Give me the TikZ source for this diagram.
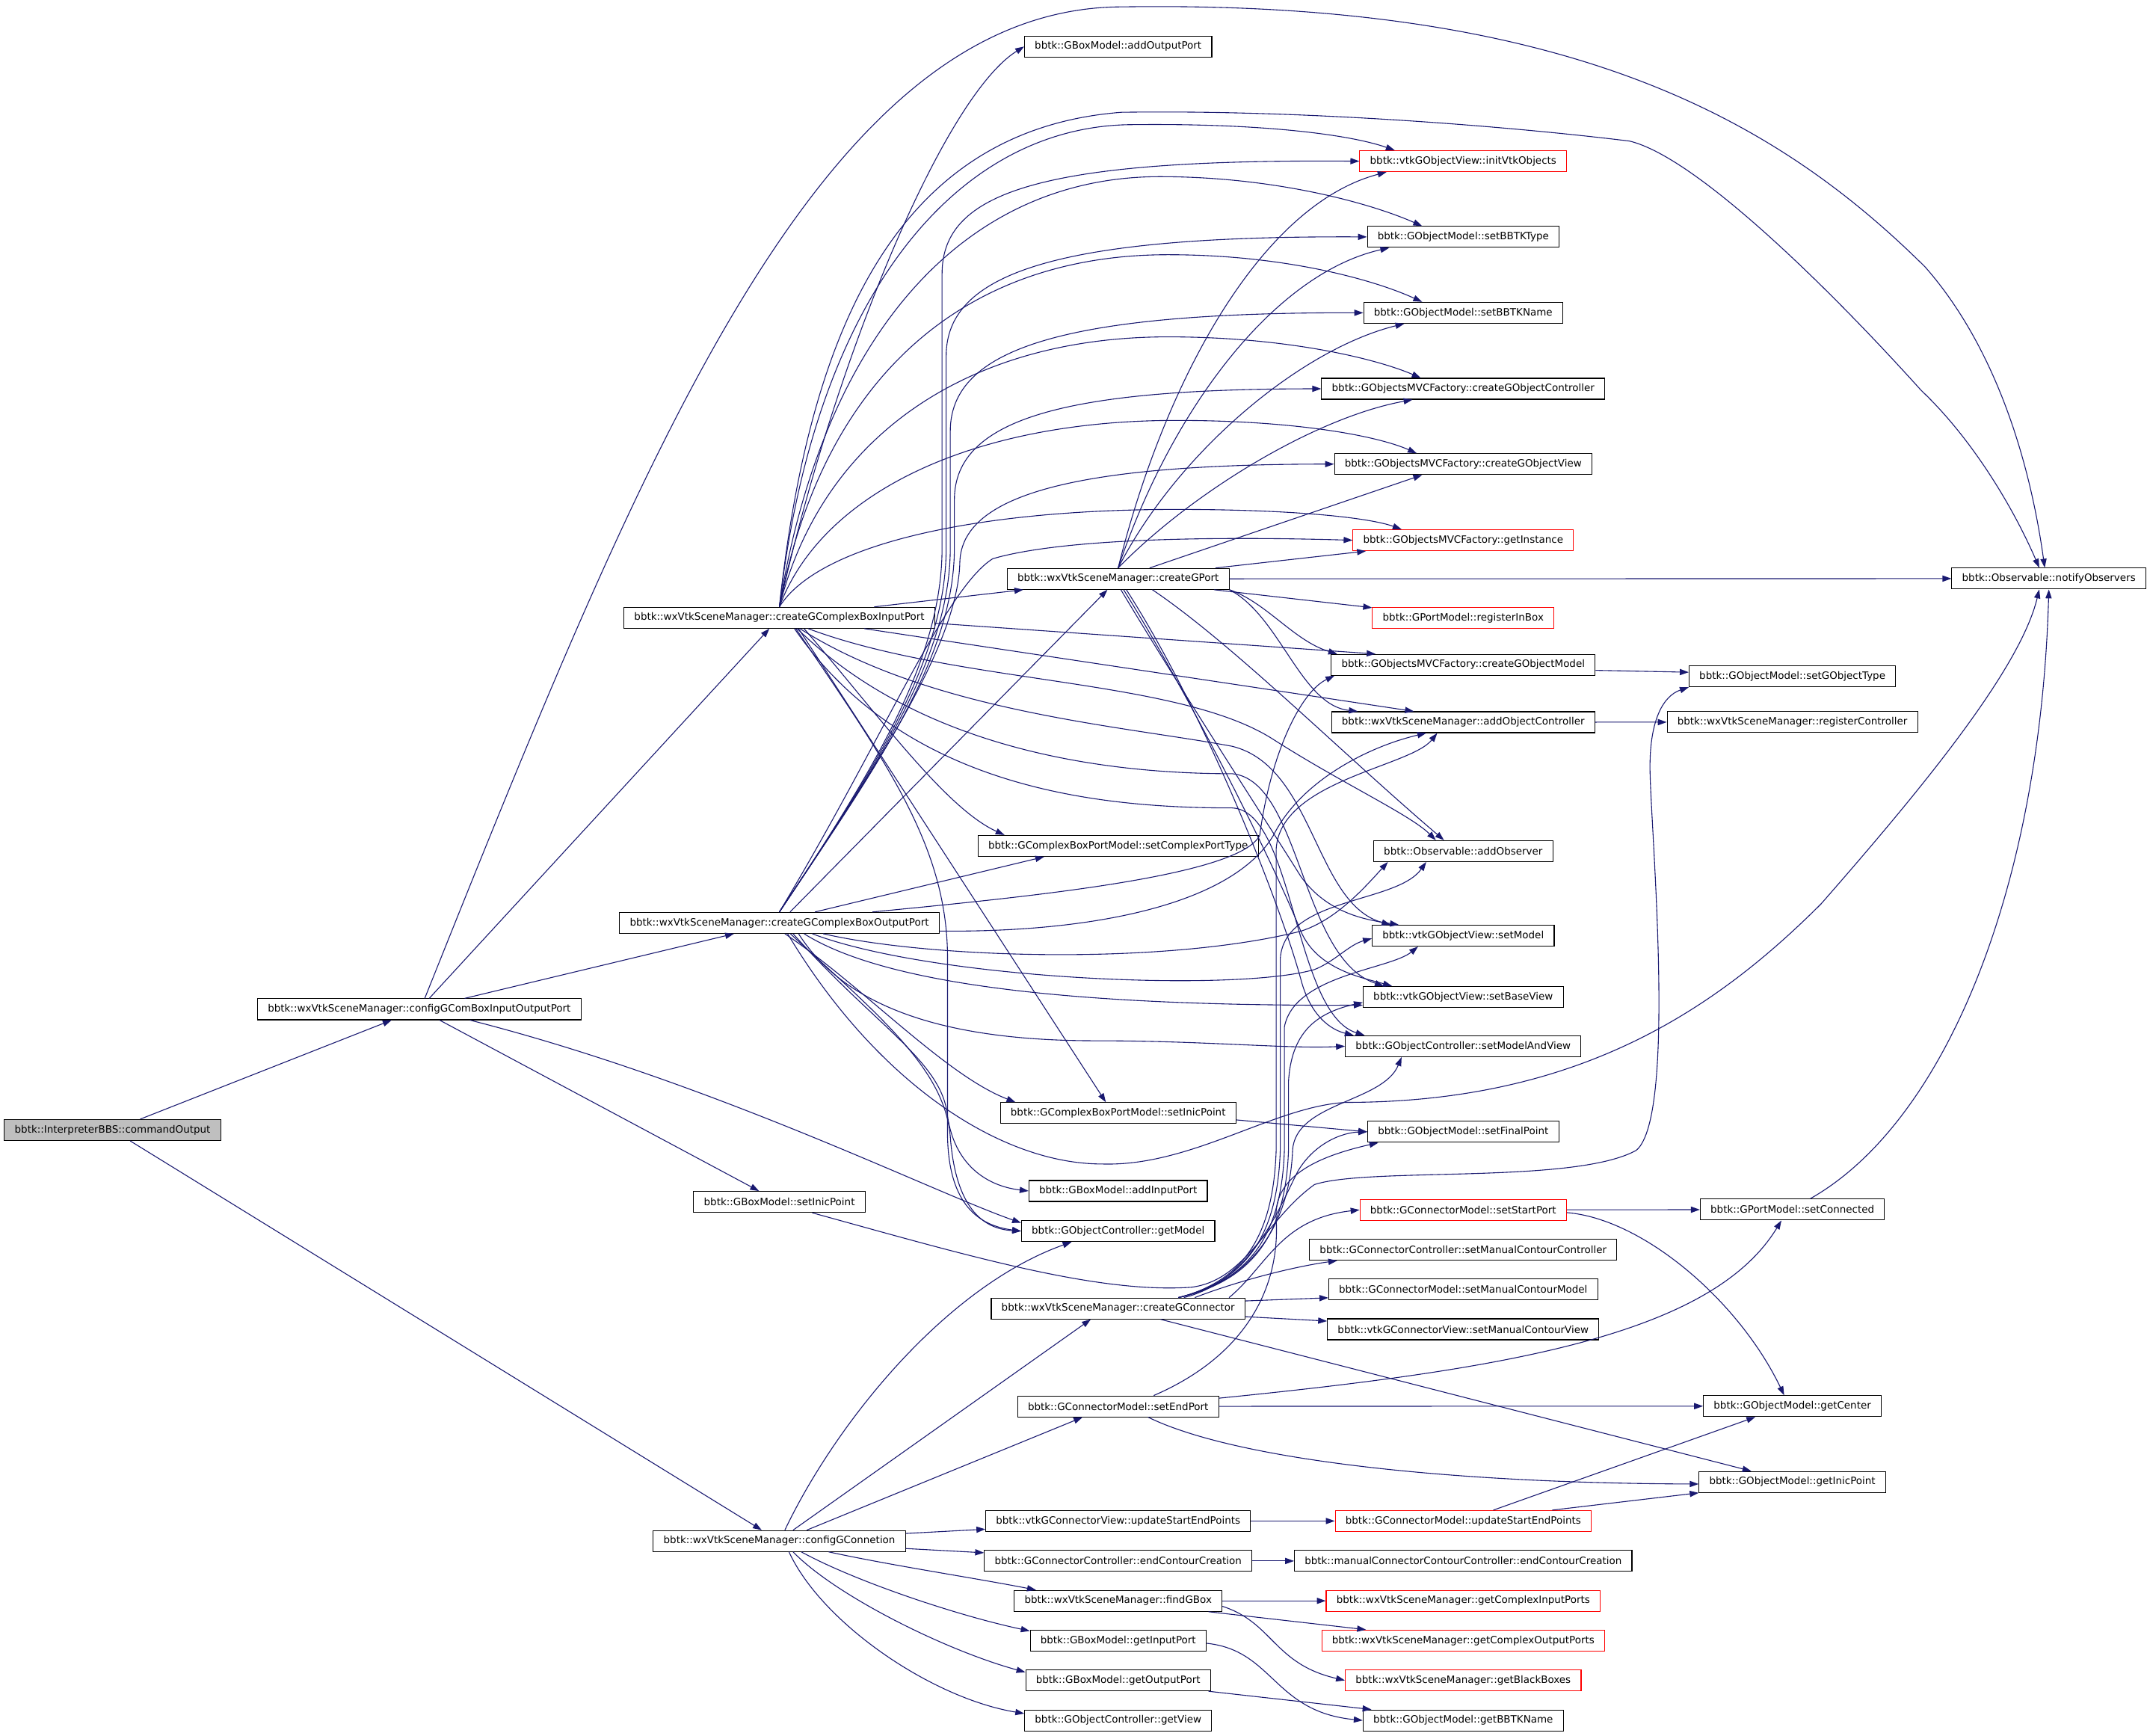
\documentclass[tikz,border=0pt]{standalone}
\usepackage{fontspec}
\setmainfont{DejaVu Sans}
\usepackage{tikz}
\usetikzlibrary{arrows.meta}
\definecolor{edge-blue}{HTML}{191970}
\definecolor{root-fill}{HTML}{BFBFBF}
\tikzset{
  fn/.style={draw=black,fill=white,line width=0.6pt,minimum height=15.3pt,
    inner xsep=7.5pt,inner ysep=0pt,font=\fontsize{7.35pt}{8.5pt}\selectfont},
  fnred/.style={fn,draw=red},
  fnroot/.style={fn,fill=root-fill},
  call/.style={->,draw=edge-blue,line width=0.6pt}
}
\begin{document}
\begin{tikzpicture}[x=1pt,y=-1pt,>={Triangle[length=6.5pt,width=4.5pt]}]
\useasboundingbox (0,0) rectangle (1568,1267.2);
% callers
\node[fnroot] (CO) at (82.2,825.2) {bbtk::InterpreterBBS::commandOutput};
\node[fn] (CB) at (306.2,737) {bbtk::wxVtkSceneManager::configGComBoxInputOutputPort};
\node[fn] (IP) at (569.2,451.1) {bbtk::wxVtkSceneManager::createGComplexBoxInputPort};
\node[fn] (OP) at (569.2,673.9) {bbtk::wxVtkSceneManager::createGComplexBoxOutputPort};
\node[fn] (BSIP) at (569.2,877.7) {bbtk::GBoxModel::setInicPoint};
\node[fn] (CG) at (569.2,1125.3) {bbtk::wxVtkSceneManager::configGConnetion};
% middle column
\node[fn] (AOP) at (816.6,34) {bbtk::GBoxModel::addOutputPort};
\node[fn] (GP) at (816.6,422.7) {bbtk::wxVtkSceneManager::createGPort};
\node[fn] (CPT) at (816.6,617.7) {bbtk::GComplexBoxPortModel::setComplexPortType};
\node[fn] (CIP) at (816.6,812.8) {bbtk::GComplexBoxPortModel::setInicPoint};
\node[fn] (AIP) at (816.6,869.7) {bbtk::GBoxModel::addInputPort};
\node[fn] (GM) at (816.6,899) {bbtk::GObjectController::getModel};
\node[fn] (CC) at (816.6,955.5) {bbtk::wxVtkSceneManager::createGConnector};
\node[fn] (SEP) at (816.6,1027) {bbtk::GConnectorModel::setEndPort};
\node[fn] (VUP) at (816.6,1110.7) {bbtk::vtkGConnectorView::updateStartEndPoints};
\node[fn] (ECC) at (816.6,1139.9) {bbtk::GConnectorController::endContourCreation};
\node[fn] (FGB) at (816.6,1169) {bbtk::wxVtkSceneManager::findGBox};
\node[fn] (GIP) at (816.6,1198) {bbtk::GBoxModel::getInputPort};
\node[fn] (GOP) at (816.6,1227.1) {bbtk::GBoxModel::getOutputPort};
\node[fn] (GV) at (816.6,1256.3) {bbtk::GObjectController::getView};
% right column
\node[fnred] (IV) at (1068.6,117.7) {bbtk::vtkGObjectView::initVtkObjects};
\node[fn] (BT) at (1068.6,173) {bbtk::GObjectModel::setBBTKType};
\node[fn] (BN) at (1068.6,228.4) {bbtk::GObjectModel::setBBTKName};
\node[fn] (FC) at (1068.6,283.9) {bbtk::GObjectsMVCFactory::createGObjectController};
\node[fn] (FV) at (1068.6,338.9) {bbtk::GObjectsMVCFactory::createGObjectView};
\node[fnred] (GI) at (1068.6,394.5) {bbtk::GObjectsMVCFactory::getInstance};
\node[fnred] (RB) at (1068.6,451.3) {bbtk::GPortModel::registerInBox};
\node[fn] (FM) at (1068.6,485.5) {bbtk::GObjectsMVCFactory::createGObjectModel};
\node[fn] (AC) at (1068.6,527.4) {bbtk::wxVtkSceneManager::addObjectController};
\node[fn] (AO) at (1068.6,621.5) {bbtk::Observable::addObserver};
\node[fn] (SM) at (1068.6,683.3) {bbtk::vtkGObjectView::setModel};
\node[fn] (SB) at (1068.6,728) {bbtk::vtkGObjectView::setBaseView};
\node[fn] (SMV) at (1068.6,764) {bbtk::GObjectController::setModelAndView};
\node[fn] (FP) at (1068.6,826.5) {bbtk::GObjectModel::setFinalPoint};
\node[fnred] (SSP) at (1068.6,883.5) {bbtk::GConnectorModel::setStartPort};
\node[fn] (SMCC) at (1068.6,912.6) {bbtk::GConnectorController::setManualContourController};
\node[fn] (SMCM) at (1068.6,941.7) {bbtk::GConnectorModel::setManualContourModel};
\node[fn] (SMCV) at (1068.6,970.7) {bbtk::vtkGConnectorView::setManualContourView};
\node[fnred] (CUP) at (1068.6,1110.7) {bbtk::GConnectorModel::updateStartEndPoints};
\node[fn] (MEC) at (1068.6,1139.9) {bbtk::manualConnectorContourController::endContourCreation};
\node[fnred] (GCIP) at (1068.6,1169) {bbtk::wxVtkSceneManager::getComplexInputPorts};
\node[fnred] (GCOP) at (1068.6,1198) {bbtk::wxVtkSceneManager::getComplexOutputPorts};
\node[fnred] (GBB) at (1068.6,1227.1) {bbtk::wxVtkSceneManager::getBlackBoxes};
\node[fn] (GBN) at (1068.6,1256.3) {bbtk::GObjectModel::getBBTKName};
% far right
\node[fn] (NO) at (1496.3,422.5) {bbtk::Observable::notifyObservers};
\node[fn] (SGT) at (1309,493.9) {bbtk::GObjectModel::setGObjectType};
\node[fn] (RC) at (1309,527.3) {bbtk::wxVtkSceneManager::registerController};
\node[fn] (SC) at (1309,883.3) {bbtk::GPortModel::setConnected};
\node[fn] (GC) at (1309,1026.8) {bbtk::GObjectModel::getCenter};
\node[fn] (GIPt) at (1309,1082.2) {bbtk::GObjectModel::getInicPoint};

% commandOutput
\draw[call] (CO) -- (CB);
\draw[call] (CO) -- (CG);
% configGComBoxInputOutputPort
\draw[call] (CB) -- (IP);
\draw[call] (CB) -- (OP);
\draw[call] (CB) -- (BSIP);
\draw[call] ([xshift=37pt]CB.south) .. controls (520,790) and (680,870) .. ([yshift=6pt]GM.west);
\draw[call] ([xshift=4pt]CB.north) .. controls (470,330) and (600,5) .. (820,5)
  .. controls (1150,0) and (1300,90) .. (1406,195) .. controls (1450,245) and (1480,320) .. ([xshift=-3pt]NO.north);
% createGComplexBoxInputPort
\draw[call] (IP.north) .. controls (610,260) and (690,70) .. (AOP.west);
\draw[call] (IP.north) .. controls (595,214) and (700,91) .. (828,91) .. controls (920,90) and (985,98) .. ([xshift=-50pt]IV.north);
\draw[call] (IP.north) .. controls (600,250) and (700,129) .. (847,129) .. controls (930,129) and (1000,148) .. ([xshift=-30pt]BT.north);
\draw[call] (IP.north) .. controls (600,280) and (700,186) .. (853,186) .. controls (940,186) and (1005,205) .. ([xshift=-30pt]BN.north);
\draw[call] (IP.north) .. controls (600,320) and (705,246) .. (853,246) .. controls (940,246) and (1005,262) .. ([xshift=-31pt]FC.north);
\draw[call] (IP.north) .. controls (600,360) and (710,307) .. (859,307) .. controls (945,307) and (1005,318) .. ([xshift=-34pt]FV.north);
\draw[call] (IP.north) .. controls (598,397) and (714,372) .. (859,372) .. controls (945,372) and (1000,378) .. ([xshift=-45pt]GI.north);
\draw[call] (IP) -- (GP);
\draw[call] (IP.north) .. controls (590,250) and (650,95) .. (819,82) .. controls (950,80) and (1100,92) .. (1190,103)
  .. controls (1240,115) and (1340,215) .. (1403,285) .. controls (1440,320) and (1470,370) .. ([xshift=-7pt]NO.north);
\draw[call] ([yshift=-4pt]IP.east) -- ([xshift=-64pt]FM.north);
\draw[call] ([xshift=62pt]IP.south) -- ([xshift=-36pt]AC.north);
\draw[call] ([xshift=21pt]IP.south) .. controls (700,500) and (860,495) .. (930,540) .. controls (980,572) and (1030,595) .. ([xshift=-20pt]AO.north);
\draw[call] ([xshift=15pt]IP.south) .. controls (680,520) and (820,530) .. (900,545) .. controls (960,560) and (960,660) .. ([xshift=-53pt]SM.north);
\draw[call] ([xshift=13pt]IP.south) .. controls (670,545) and (800,565) .. (900,565) .. controls (950,570) and (950,700) .. ([xshift=-58pt]SB.north);
\draw[call] ([xshift=11pt]IP.south) .. controls (660,575) and (800,590) .. (900,590) .. controls (945,592) and (945,740) .. ([xshift=-72pt]SMV.north);
\draw[call] ([xshift=18pt]IP.south) .. controls (640,520) and (690,590) .. ([xshift=-83pt]CPT.north);
\draw[call] ([xshift=14pt]IP.south) -- ([xshift=-9pt]CIP.north);
\draw[call] ([xshift=12pt]IP.south) .. controls (650,560) and (692,620) .. (692,700) -- (692,830) .. controls (693,880) and (715,895) .. (GM.west);
% createGComplexBoxOutputPort
\draw[call] (OP) -- (GP);
\draw[call] ([xshift=26pt]OP.north) -- ([xshift=-54pt]CPT.south);
\draw[call] (OP.north) .. controls (640,560) and (688,480) .. (688,400) -- (688,200) .. controls (688,140) and (760,116) .. (IV.west);
\draw[call] (OP.north) .. controls (640,560) and (691,480) .. (691,400) -- (691,260) .. controls (691,200) and (770,172) .. (BT.west);
\draw[call] (OP.north) .. controls (640,560) and (694,480) .. (694,400) -- (694,315) .. controls (694,255) and (775,228) .. (BN.west);
\draw[call] (OP.north) .. controls (640,560) and (697,480) .. (697,400) -- (697,365) .. controls (697,305) and (780,284) .. (FC.west);
\draw[call] (OP.north) .. controls (640,560) and (700,470) .. (701,410) .. controls (703,360) and (790,339) .. (FV.west);
\draw[call] (OP.north) .. controls (645,540) and (690,430) .. (725,408) .. controls (780,392) and (900,392) .. (GI.west);
\draw[call] ([xshift=68pt]OP.north) .. controls (750,655) and (905,640) .. (920,610) .. controls (928,550) and (950,505) .. ([xshift=-94pt]FM.south);
\draw[call] ([yshift=-6pt]OP.east) .. controls (800,681) and (900,660) .. (930,610) .. controls (950,570) and (1000,545) .. ([xshift=-27pt]AC.south);
\draw[call] ([xshift=32pt]OP.south) .. controls (680,700) and (850,705) .. (950,680) .. controls (975,672) and (995,650) .. ([xshift=-55pt]AO.south);
\draw[call] ([xshift=24pt]OP.south) .. controls (680,715) and (900,725) .. (960,708) .. controls (975,702) and (985,690) .. ([yshift=-2pt]SM.west);
\draw[call] ([xshift=18pt]OP.south) .. controls (640,715) and (760,735) .. ([yshift=-6pt]SB.west);
\draw[call] ([xshift=14pt]OP.south) .. controls (620,740) and (700,760) .. (800,760) .. controls (880,760) and (940,766) .. (SMV.west);
\draw[call] ([xshift=6pt]OP.south) .. controls (640,790) and (730,850) .. (805,850) .. controls (870,852) and (930,808) .. (983,805)
  .. controls (1150,805) and (1250,740) .. (1330,660) .. controls (1400,580) and (1475,490) .. ([xshift=-7pt]NO.south);
\draw[call] ([xshift=4pt]OP.south) .. controls (630,720) and (690,785) .. ([xshift=-75pt]CIP.north);
\draw[call] ([xshift=8pt]OP.south) .. controls (640,740) and (690,780) .. (694,830) .. controls (697,870) and (710,897) .. (GM.west);
\draw[call] ([xshift=10pt]OP.south) .. controls (640,750) and (688,775) .. (692,815) .. controls (697,850) and (720,866) .. (AIP.west);
% GBoxModel::setInicPoint
\draw[call] ([xshift=24pt]BSIP.south) .. controls (700,915) and (800,945) .. (870,940) .. controls (910,935) and (925,890) .. (960,865)
  .. controls (1000,852) and (1150,865) .. (1195,840) .. controls (1225,815) and (1205,600) .. (1205,560)
  .. controls (1205,525) and (1215,508) .. (SGT.south west);
% configGConnetion
\draw[call] ([xshift=4pt]CG.north) .. controls (610,1040) and (690,940) .. ([xshift=-34pt]GM.south);
\draw[call] ([xshift=10pt]CG.north) -- ([xshift=-20pt]CC.south);
\draw[call] ([xshift=20pt]CG.north) -- ([xshift=-26pt]SEP.south);
\draw[call] ([yshift=5.5pt]CG.east) -- ([yshift=-6pt]VUP.west);
\draw[call] ([yshift=-5.5pt]CG.east) -- ([yshift=6pt]ECC.west);
\draw[call] ([xshift=36pt]CG.south) .. controls (650,1143) and (710,1152) .. ([xshift=-60pt]FGB.north);
\draw[call] ([xshift=16pt]CG.south) .. controls (625,1155) and (700,1180) .. ([yshift=7pt]GIP.west);
\draw[call] ([xshift=10pt]CG.south) .. controls (610,1165) and (690,1205) .. ([yshift=6pt]GOP.west);
\draw[call] ([xshift=7pt]CG.south) .. controls (600,1185) and (680,1240) .. ([yshift=5pt]GV.west);
% createGPort
\draw[call] (GP.north) .. controls (850,280) and (920,150) .. ([xshift=-56pt]IV.south);
\draw[call] (GP.north) .. controls (855,300) and (930,200) .. ([xshift=-54pt]BT.south);
\draw[call] (GP.north) .. controls (860,330) and (950,255) .. ([xshift=-43pt]BN.south);
\draw[call] (GP.north) .. controls (870,360) and (960,305) .. ([xshift=-37pt]FC.south);
\draw[call] ([xshift=23pt]GP.north) -- ([xshift=-30pt]FV.south);
\draw[call] (GP) -- (GI);
\draw[call] (GP) -- (NO);
\draw[call] (GP) -- (RB);
\draw[call] (GP.south east) .. controls (925,440) and (945,468) .. ([xshift=-92pt]FM.north);
\draw[call] (GP.south east) .. controls (935,450) and (950,515) .. ([xshift=-77pt]AC.north);
\draw[call] ([xshift=25pt]GP.south) .. controls (900,470) and (980,550) .. ([xshift=-14pt]AO.north);
\draw[call] ([xshift=2pt]GP.south) .. controls (860,500) and (925,600) .. (950,640) .. controls (970,668) and (1000,672) .. ([xshift=-47pt]SM.north);
\draw[call] ([xshift=4pt]GP.south) .. controls (870,510) and (930,630) .. (950,680) .. controls (962,708) and (995,714) .. ([xshift=-52pt]SB.north);
\draw[call] ([xshift=6pt]GP.south) .. controls (880,520) and (935,660) .. (950,715) .. controls (957,742) and (972,752) .. ([xshift=-80pt]SMV.north);
% createGConnector
\draw[call] ([xshift=44pt]CC.north) .. controls (910,935) and (930,900) .. (932,840) -- (932,620) .. controls (935,570) and (1030,560) .. ([xshift=-19pt]AC.south);
\draw[call] ([xshift=44pt]CC.north) .. controls (912,935) and (933,900) .. (935,840) -- (935,700) .. controls (938,655) and (1020,660) .. ([xshift=-27pt]AO.south);
\draw[call] ([xshift=44pt]CC.north) .. controls (914,935) and (936,900) .. (938,840) -- (938,750) .. controls (945,712) and (1015,708) .. ([xshift=-33pt]SM.south);
\draw[call] ([xshift=44pt]CC.north) .. controls (916,935) and (939,900) .. (941,840) -- (941,790) .. controls (943,755) and (960,740) .. ([yshift=-4pt]SB.west);
\draw[call] ([xshift=44pt]CC.north) .. controls (918,935) and (942,890) .. (944,840) .. controls (946,805) and (1010,805) .. ([xshift=-45pt]SMV.south);
\draw[call] ([xshift=48pt]CC.north) .. controls (915,935) and (935,880) .. (948,855) .. controls (960,835) and (980,827) .. (FP.west);
\draw[call] ([xshift=81pt]CC.north) .. controls (925,925) and (935,890) .. (SSP.west);
\draw[call] ([xshift=56pt]CC.north) .. controls (905,935) and (945,925) .. ([xshift=-92pt]SMCC.south);
\draw[call] ([yshift=5.5pt]CC.east) -- ([yshift=-6pt]SMCM.west);
\draw[call] ([yshift=-6pt]CC.east) -- ([yshift=6pt]SMCV.west);
\draw[call] ([xshift=31pt]CC.south) -- ([xshift=-30pt]GIPt.north);
% setEndPort
\draw[call] ([xshift=26pt]SEP.north) .. controls (910,990) and (935,940) .. (932,890) .. controls (930,860) and (960,845) .. ([xshift=-62pt]FP.south);
\draw[call] ([yshift=6pt]SEP.east) .. controls (1100,1000) and (1250,975) .. ([xshift=-8pt]SC.south);
\draw[call] (SEP) -- (GC);
\draw[call] ([xshift=22pt]SEP.south) .. controls (900,1065) and (1050,1083) .. ([yshift=-1.5pt]GIPt.west);
% setStartPort
\draw[call] (SSP) -- (SC);
\draw[call] ([yshift=-2pt]SSP.east) .. controls (1200,890) and (1270,950) .. ([xshift=-6pt]GC.north);
% updateStartEndPoints
\draw[call] ([xshift=22pt]CUP.north) -- ([xshift=-27pt]GC.south);
\draw[call] ([xshift=65pt]CUP.north) -- (GIPt.south west);
\draw[call] (VUP) -- (CUP);
% the rest
\draw[call] (ECC) -- (MEC);
\draw[call] (FGB) -- (GCIP);
\draw[call] ([xshift=66pt]FGB.south) -- ([xshift=-71pt]GCOP.north);
\draw[call] ([yshift=-4pt]FGB.east) .. controls (930,1185) and (930,1215) .. (GBB.west);
\draw[call] ([yshift=-2pt]GIP.east) .. controls (930,1205) and (930,1250) .. (GBN.west);
\draw[call] ([xshift=66pt]GOP.south) -- ([xshift=-67pt]GBN.north);
\draw[call] ([yshift=-5pt]CIP.east) -- (FP.west);
\draw[call] ([yshift=-4pt]FM.east) -- ([yshift=3pt]SGT.west);
\draw[call] (AC) -- (RC);
\draw[call] ([xshift=13pt]SC.north) .. controls (1420,820) and (1490,650) .. (NO.south);
\end{tikzpicture}
\end{document}
